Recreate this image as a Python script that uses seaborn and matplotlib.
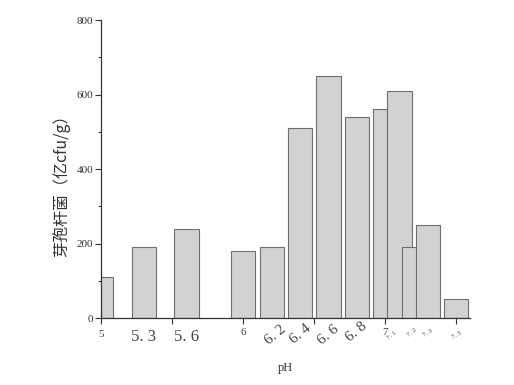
import matplotlib
matplotlib.use("Agg")
import matplotlib.pyplot as plt
import matplotlib.transforms as mtransforms
import seaborn as sns
import pandas as pd

ph = [5.0, 5.3, 5.6, 6.0, 6.2, 6.4, 6.6, 6.8, 7.0, 7.1, 7.2, 7.3, 7.5]
counts = [110, 190, 240, 180, 190, 510, 650, 540, 560, 610, 190, 250, 50]

label_pos = [5.0, 5.3, 5.6, 6.0, 6.2, 6.4, 6.6, 6.8, 7.0, 7.1, 7.2, 7.3, 7.5]
label_txt = ["5", "5. 3", "5. 6", "6", "6. 2", "6. 4", "6. 6", "6. 8", "7", "7. 1", "7. 2", "7. 3", "7. 5"]

sns.set_style("ticks")
plt.rcParams["font.family"] = ["Liberation Serif", "Noto Sans CJK SC", "DejaVu Sans"]

df = pd.DataFrame({"pH": ph, "count": counts})

fig = plt.figure(figsize=(5.14, 3.85), dpi=100)
ax = fig.add_axes([0.197, 0.174, 0.717, 0.774])

sns.barplot(data=df, x="pH", y="count", native_scale=True, width=1.7,
            color="#d2d2d2", saturation=1, edgecolor="#6e6e6e", linewidth=0.8,
            errorbar=None, ax=ax)

ax.set_xlim(5.0, 7.595)
ax.set_ylim(0, 800)
ax.set_yticks([0, 200, 400, 600, 800])
ax.set_yticks([100, 300, 500, 700], minor=True)
ax.set_xticks([5.0, 5.5, 6.0, 6.5, 7.0, 7.5])
ax.set_xticklabels([])
ax.tick_params(axis="y", labelsize=8, length=4, width=0.8, colors="#333333", pad=2)
ax.tick_params(axis="y", which="minor", length=2.5, width=0.8, colors="#333333")
ax.tick_params(axis="x", length=4, width=0.8, colors="#333333")
for s in ["top", "right"]:
    ax.spines[s].set_visible(False)
for s in ["left", "bottom"]:
    ax.spines[s].set_color("#333333")
    ax.spines[s].set_linewidth(0.9)

trans = mtransforms.blended_transform_factory(ax.transData, ax.transAxes)
styles = {
    "5": (8, 0, -0.054, 0), "6": (8, 0, -0.05, 0), "7": (8, 0, -0.05, 0),
    "5. 3": (12, 0, -0.064, 0), "5. 6": (12, 0, -0.064, 0),
    "6. 2": (11, 40, -0.057, 0.03), "6. 4": (11, 40, -0.052, 0), "6. 6": (11, 40, -0.057, 0),
    "6. 8": (11, 40, -0.047, 0),
    "7. 1": (5, 40, -0.057, -0.05), "7. 2": (5, 40, -0.05, -0.015), "7. 3": (5, 30, -0.05, 0.0),
    "7. 5": (5, 30, -0.057, 0),
}
for p, t in zip(label_pos, label_txt):
    fs, rot, yy, dx = styles[t]
    ax.text(p + dx, yy, t, transform=trans, fontsize=fs, rotation=rot,
            ha="center", va="center", color="#444444")

ax.set_xlabel("pH", fontsize=9, labelpad=24, color="#333333")
ax.set_ylabel("芽孢杆菌（亿cfu/g）", fontsize=11.5, color="#333333",
              family=["Noto Sans CJK SC", "DejaVu Sans"])
ax.yaxis.set_label_coords(-0.085, 0.456)

fig.savefig("out.png", dpi=100)
